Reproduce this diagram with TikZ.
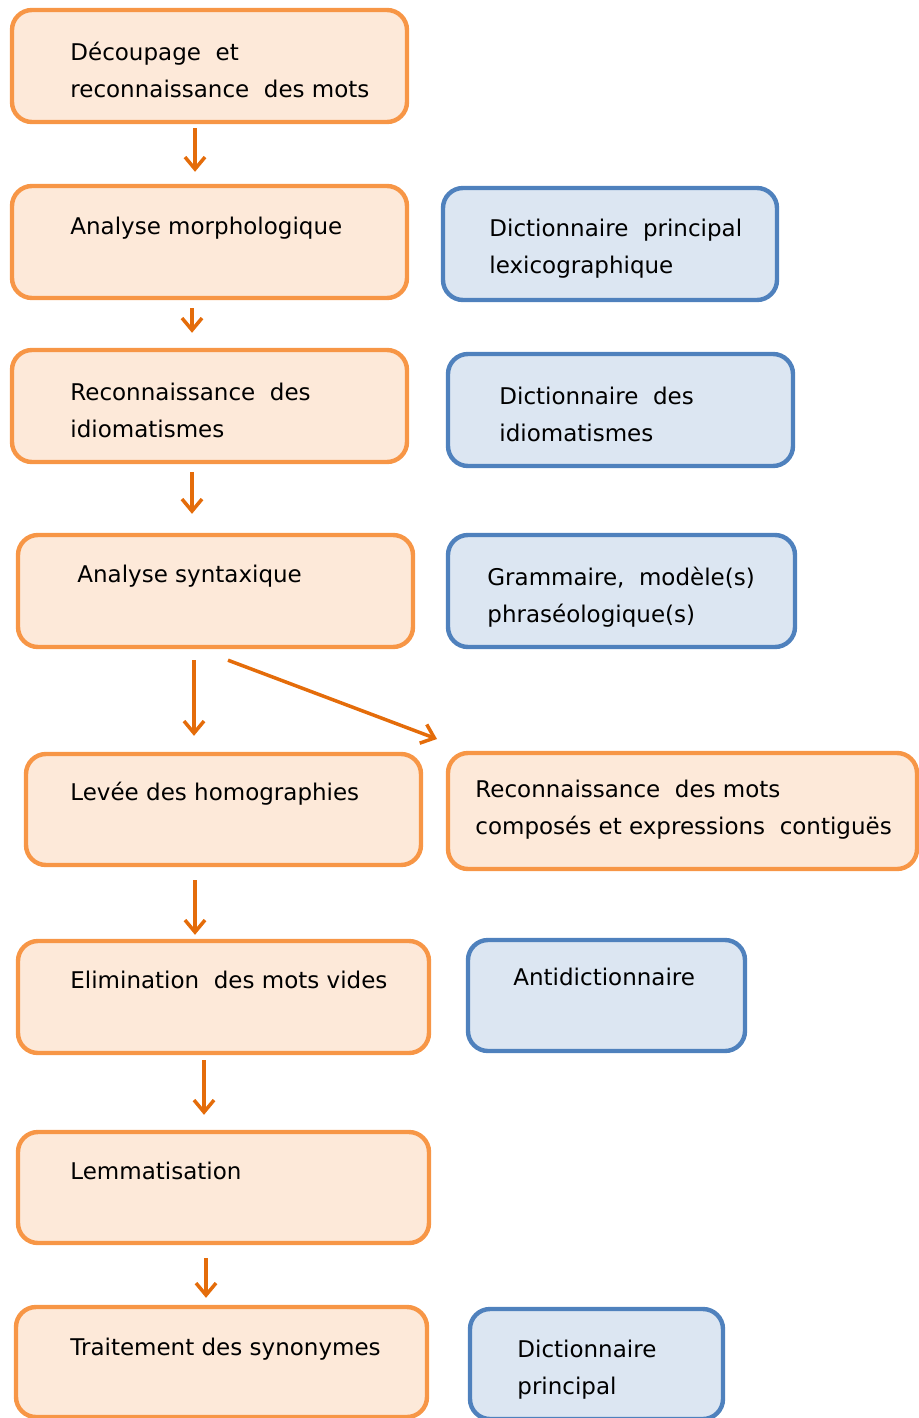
\documentclass[tikz,border=0pt]{standalone}
\usepackage{fontspec}
\setmainfont{DejaVu Sans}
\usetikzlibrary{arrows.meta}
\definecolor{procline}{HTML}{F79646}
\definecolor{procfill}{HTML}{FDE9D9}
\definecolor{dicoline}{HTML}{4F81BD}
\definecolor{dicofill}{HTML}{DCE6F2}
\definecolor{flowline}{HTML}{E46C0A}
\tikzset{
  proc/.style={draw=procline, fill=procfill, line width=2.2pt, rounded corners=10pt, inner sep=0pt},
  dico/.style={draw=dicoline, fill=dicofill, line width=2.2pt, rounded corners=10pt, inner sep=0pt},
  boxtxt/.style={anchor=north west, inner sep=0pt, align=left, font=\fontsize{11.5}{18.5}\selectfont},
  flow/.style={draw=flowline, line width=1.75pt, -{Straight Barb[length=6pt,width=10pt]}}
}
\newcommand{\procbox}[5]{\node[proc, minimum width={(#4-#2)*0.5pt}, minimum height={(#5-#3)*0.5pt}] (#1) at ({(#2+#4)/2},{(#3+#5)/2}) {};}
\newcommand{\dicobox}[5]{\node[dico, minimum width={(#4-#2)*0.5pt}, minimum height={(#5-#3)*0.5pt}] (#1) at ({(#2+#4)/2},{(#3+#5)/2}) {};}
\newcommand{\boxtext}[4]{\node[boxtxt] (#1) at (#2,#3) {#4};}

\begin{document}
\begin{tikzpicture}[x=0.5pt, y=-0.5pt]
        \useasboundingbox (0,0) rectangle (918,1418);

        % processing steps
        \procbox{decoupage}{12}{10}{407}{122}
        \procbox{morpho}{12}{186}{407}{298}
        \procbox{idiom}{12}{350}{407}{462}
        \procbox{syntaxe}{18}{535}{413}{647}
        \procbox{homogr}{26}{754}{421}{865}
        \procbox{composes}{448}{753}{917}{869}
        \procbox{vides}{18}{941}{429}{1053}
        \procbox{lemme}{18}{1132}{429}{1243}
        \procbox{synonymes}{16}{1307}{427}{1417}

        % resources
        \dicobox{dicolex}{443}{188}{777}{300}
        \dicobox{dicoidiom}{448}{354}{793}{466}
        \dicobox{grammaire}{448}{535}{795}{647}
        \dicobox{antidico}{468}{940}{745}{1051}
        \dicobox{dicoprinc}{470}{1309}{723}{1419}

        % texts
        \boxtext{tdecoupage}{70}{42}{Découpage\ \ et\\reconnaissance\ \ des mots}
        \boxtext{tmorpho}{70}{217}{Analyse morphologique}
        \boxtext{tidiom}{70}{383}{Reconnaissance\ \ des\\idiomatismes}
        \boxtext{tsyntaxe}{77}{565}{Analyse syntaxique}
        \boxtext{thomogr}{70}{782}{Levée des homographies}
        \boxtext{tcomposes}{475}{780}{Reconnaissance\ \ des mots\\composés et expressions\ \ contiguës}
        \boxtext{tvides}{70}{971}{Elimination\ \ des mots vides}
        \boxtext{tlemme}{70}{1162}{Lemmatisation}
        \boxtext{tsynonymes}{70}{1338}{Traitement des synonymes}
        \boxtext{tdicolex}{489}{219}{Dictionnaire\ \ principal\\lexicographique}
        \boxtext{tdicoidiom}{499}{387}{Dictionnaire\ \ des\\idiomatismes}
        \boxtext{tgrammaire}{487}{567}{Grammaire,\ \ modèle(s)\\phraséologique(s)}
        \boxtext{tantidico}{513}{968}{Antidictionnaire}
        \boxtext{tdicoprinc}{517}{1340}{Dictionnaire\\principal}

        % arrows
        \draw[flow, shorten <=2pt, shorten >=6pt] (decoupage.south -| 195,0) -- (morpho.north -| 195,0);
        \draw[flow, shorten <=4pt, shorten >=7.5pt] (morpho.south -| 192,0) -- (idiom.north -| 192,0);
        \draw[flow, shorten <=4pt, shorten >=9.5pt] (idiom.south -| 192,0) -- (syntaxe.north -| 192,0);
        \draw[flow, shorten <=5.5pt, shorten >=8pt] (syntaxe.south -| 194,0) -- (homogr.north -| 194,0);
        \draw[flow, shorten <=6.5pt, shorten >=2pt] (homogr.south -| 195,0) -- (vides.north -| 195,0);
        \draw[flow, shorten <=2.5pt, shorten >=7.5pt] (vides.south -| 204,0) -- (lemme.north -| 204,0);
        \draw[flow, shorten <=6.5pt, shorten >=3.5pt] (lemme.south -| 206,0) -- (synonymes.north -| 206,0);
        % branch
        \coordinate (forktip) at (437,739);
        \draw[flow] ([yshift=-5.5pt]syntaxe.south -| 228,0) -- (forktip);

\end{tikzpicture}
\end{document}
